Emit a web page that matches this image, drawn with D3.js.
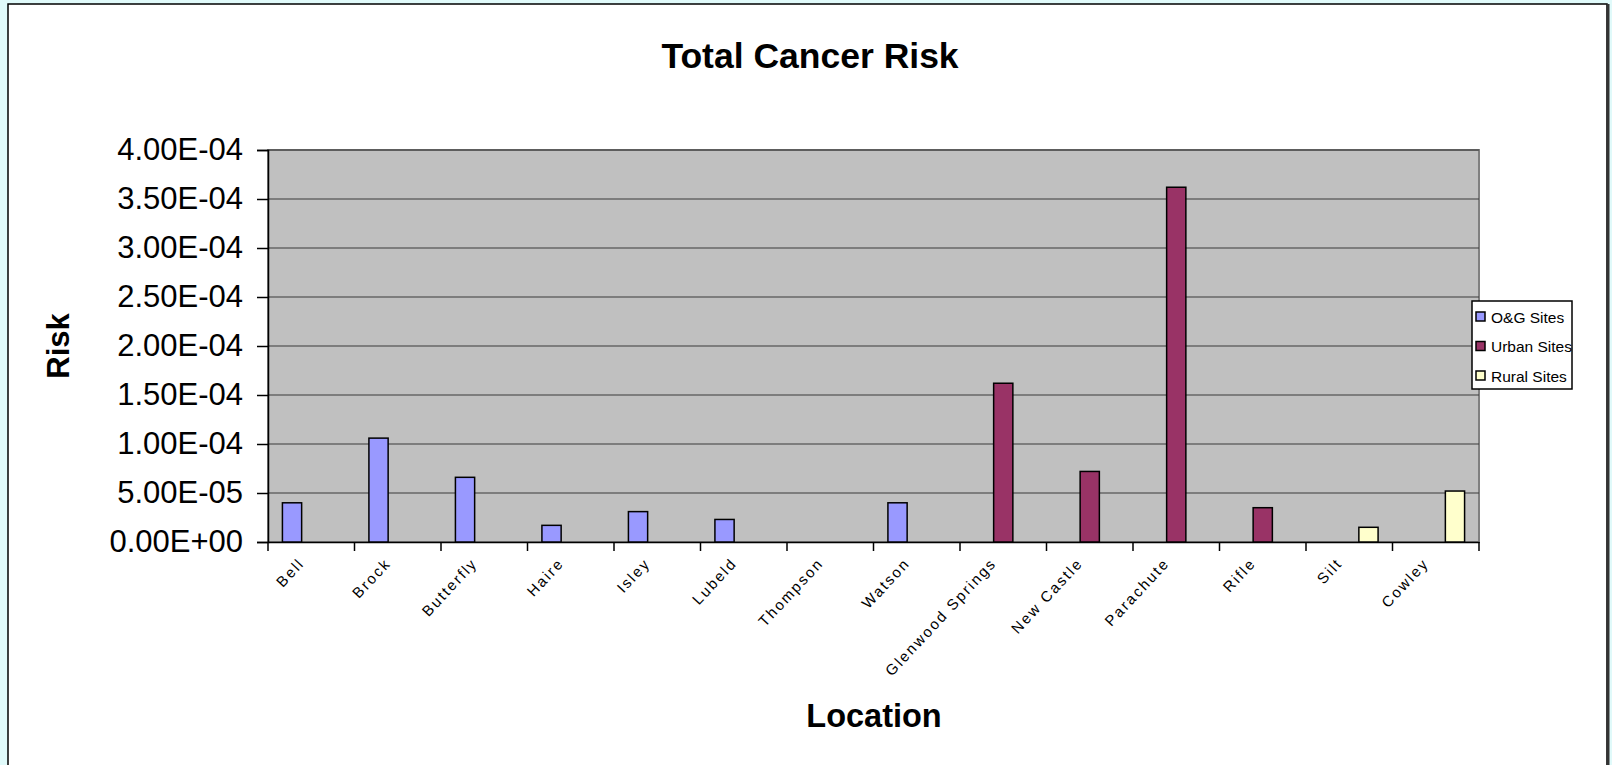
<!DOCTYPE html>
<html>
<head>
<meta charset="utf-8">
<script src="https://cdn.jsdelivr.net/npm/d3@7"></script>
<style>
  body { margin: 0; background: #e0fafa; }
  svg { display: block; font-family: Arial, "Liberation Sans", sans-serif; }
</style>
</head>
<body>
<div id="chart"></div>
<script>
const categories = ["Bell", "Brock", "Butterfly", "Haire", "Isley", "Lubeld", "Thompson", "Watson",
  "Glenwood Springs", "New Castle", "Parachute", "Rifle", "Silt", "Cowley"];
const seriesNames = ["O&G Sites", "Urban Sites", "Rural Sites"];
const ogValues    = [4.0e-5, 1.06e-4, 6.6e-5, 1.7e-5, 3.1e-5, 2.3e-5, null, 4.0e-5, null, null, null, null, null, null];
const urbanValues = [null, null, null, null, null, null, null, null, 1.62e-4, 7.2e-5, 3.62e-4, 3.5e-5, null, null];
const ruralValues = [null, null, null, null, null, null, null, null, null, null, null, null, 1.5e-5, 5.2e-5];
const yTicks = [0, 5e-5, 1e-4, 1.5e-4, 2e-4, 2.5e-4, 3e-4, 3.5e-4, 4e-4];
const colors = ["#9999ff", "#993366", "#ffffcc"];

const width = 1612, height = 765;
const plot = { left: 268, right: 1479, top: 150, bottom: 542 };

const svg = d3.select("#chart").append("svg")
  .attr("width", width).attr("height", height);

// chart area frame
svg.append("rect").attr("x", 8).attr("y", 4).attr("width", 1599).attr("height", 780)
  .attr("fill", "#fff").attr("stroke", "#000").attr("stroke-width", 1.5);
svg.append("line").attr("x1", 1608).attr("x2", 1608).attr("y1", 4).attr("y2", height)
  .attr("stroke", "#333").attr("stroke-width", 3);

const x = d3.scaleBand().domain(categories).range([plot.left, plot.right]);
const xs = d3.scaleBand().domain(seriesNames).range([0, x.bandwidth()]).paddingOuter(0.75);
const y = d3.scaleLinear().domain([0, 4e-4]).range([plot.bottom, plot.top]);

svg.append("rect")
  .attr("x", plot.left).attr("y", plot.top)
  .attr("width", plot.right - plot.left).attr("height", plot.bottom - plot.top)
  .attr("fill", "#c0c0c0").attr("stroke", "#808080").attr("stroke-width", 2);

svg.append("g").selectAll("line").data(yTicks.slice(1)).join("line")
  .attr("x1", plot.left).attr("x2", plot.right)
  .attr("y1", d => y(d)).attr("y2", d => y(d))
  .attr("stroke", "#3a3a3a").attr("stroke-width", 1);

const fmt = v => {
  if (v === 0) return "0.00E+00";
  const [m, e] = v.toExponential(2).split("e");
  const n = +e;
  return m + "E" + (n < 0 ? "-" : "+") + String(Math.abs(n)).padStart(2, "0");
};

const yAxis = svg.append("g").attr("transform", `translate(${plot.left},0)`)
  .call(d3.axisLeft(y).tickValues(yTicks).tickFormat(fmt).tickSize(11).tickPadding(14));
yAxis.select(".domain").attr("stroke", "#000").attr("stroke-width", 1.5);
yAxis.selectAll("line").attr("stroke", "#000").attr("stroke-width", 1.5);
yAxis.selectAll("text").attr("font-size", 31).attr("fill", "#000")
  .attr("font-family", "Arial, 'Liberation Sans', sans-serif");

const xAxis = svg.append("g").attr("transform", `translate(0,${plot.bottom})`)
  .call(d3.axisBottom(x).tickSize(0).tickFormat(""));
xAxis.select(".domain").attr("stroke", "#000").attr("stroke-width", 1.5);
svg.append("g").selectAll("line").data(categories.concat(["__end"])).join("line")
  .attr("x1", (d, i) => plot.left + i * x.step()).attr("x2", (d, i) => plot.left + i * x.step())
  .attr("y1", plot.bottom).attr("y2", plot.bottom + 9)
  .attr("stroke", "#000").attr("stroke-width", 1.5);

svg.append("g").selectAll("text").data(categories).join("text")
  .attr("transform", d => `translate(${x(d) + x.bandwidth() / 2 - 6},${plot.bottom + 22}) rotate(-47)`)
  .attr("text-anchor", "end")
  .attr("font-size", 15)
  .attr("letter-spacing", 2)
  .attr("fill", "#000")
  .text(d => d);

const seriesValues = [ogValues, urbanValues, ruralValues];
seriesValues.forEach((vals, si) => {
  const rows = categories.map((c, i) => ({ c, v: vals[i] })).filter(d => d.v != null);
  svg.append("g").selectAll("rect").data(rows).join("rect")
    .attr("x", d => x(d.c) + xs(seriesNames[si]))
    .attr("width", xs.bandwidth())
    .attr("y", d => y(d.v))
    .attr("height", d => y(0) - y(d.v))
    .attr("fill", colors[si])
    .attr("stroke", "#000").attr("stroke-width", 1.5);
});

svg.append("text").attr("x", 810).attr("y", 68).attr("text-anchor", "middle")
  .attr("font-size", 35.5).attr("font-weight", "bold").text("Total Cancer Risk");
svg.append("text").attr("x", 874).attr("y", 727).attr("text-anchor", "middle")
  .attr("font-size", 32.5).attr("font-weight", "bold").text("Location");
svg.append("text").attr("transform", "translate(69,346) rotate(-90)").attr("text-anchor", "middle")
  .attr("font-size", 31).attr("font-weight", "bold").text("Risk");

const legend = svg.append("g");
legend.append("rect").attr("x", 1472).attr("y", 301).attr("width", 100).attr("height", 88)
  .attr("fill", "#fff").attr("stroke", "#000").attr("stroke-width", 1.5);
const items = legend.selectAll("g").data(seriesNames).join("g")
  .attr("transform", (d, i) => `translate(1476,${317 + i * 29.5})`);
items.append("rect").attr("x", 0).attr("y", -5).attr("width", 9).attr("height", 9)
  .attr("fill", (d, i) => colors[i]).attr("stroke", "#000").attr("stroke-width", 1.5);
items.append("text").attr("x", 15).attr("y", 5.5).attr("font-size", 15.5).text(d => d);
</script>
</body>
</html>
